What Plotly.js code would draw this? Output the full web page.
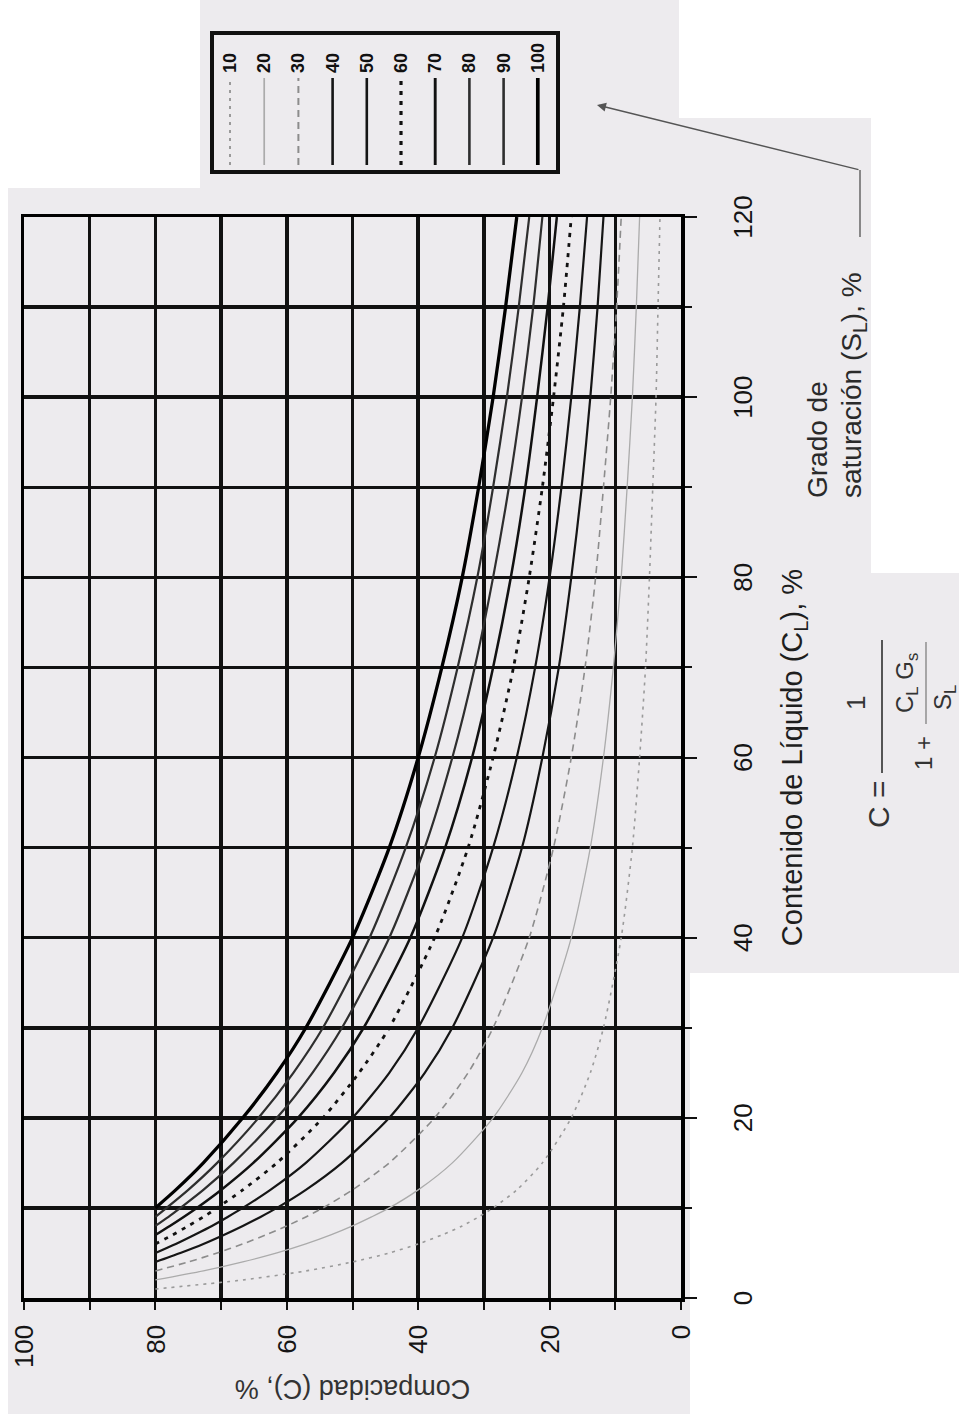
<!DOCTYPE html>
<html><head><meta charset="utf-8">
<script src="https://cdn.plot.ly/plotly-3.0.1.min.js"></script>
<style>
html,body{margin:0;padding:0;width:959px;height:1414px;overflow:hidden;background:#fff;}
#wrap{position:absolute;left:0;top:0;width:1414px;height:959px;transform-origin:0 0;transform:rotate(-90deg) translate(-1414px,0);}
</style></head><body>
<div id="wrap"><div id="chart" style="width:1414px;height:959px"></div></div>
<script>
// Contenido de líquido C_L (%)
const CL = [1,2,3,4,5,6,7,8,9,10,12,15,20,25,30,40,50,60,70,80,90,100,110,120];
// Compacidad C (%) for each grado de saturación S_L (%)
const S10  = [80,66.7,57.1,50,44.4,40,36.4,33.3,30.8,28.6,25,21.1,16.7,13.8,11.8,9.1,7.4,6.3,5.4,4.8,4.3,3.8,3.5,3.2];
const S20  = [null,80,72.7,66.7,61.5,57.1,53.3,50,47.1,44.4,40,34.8,28.6,24.2,21.1,16.7,13.8,11.8,10.3,9.1,8.2,7.4,6.8,6.3];
const S30  = [null,null,80,75,70.6,66.7,63.2,60,57.1,54.5,50,44.4,37.5,32.4,28.6,23.1,19.4,16.7,14.6,13,11.8,10.7,9.8,9.1];
const S40  = [null,null,null,80,76.2,72.7,69.6,66.7,64,61.5,57.1,51.6,44.4,39,34.8,28.6,24.2,21.1,18.6,16.7,15.1,13.8,12.7,11.8];
const S50  = [null,null,null,null,80,76.9,74.1,71.4,69,66.7,62.5,57.1,50,44.4,40,33.3,28.6,25,22.2,20,18.2,16.7,15.4,14.3];
const S60  = [null,null,null,null,null,80,77.4,75,72.7,70.6,66.7,61.5,54.5,49,44.4,37.5,32.4,28.6,25.5,23.1,21.1,19.4,17.9,16.7];
const S70  = [null,null,null,null,null,null,80,77.8,75.7,73.7,70,65.1,58.3,52.8,48.3,41.2,35.9,31.8,28.6,25.9,23.7,21.9,20.3,18.9];
const S80  = [null,null,null,null,null,null,null,80,78,76.2,72.7,68.1,61.5,56.1,51.6,44.4,39,34.8,31.4,28.6,26.2,24.2,22.5,21.1];
const S90  = [null,null,null,null,null,null,null,null,80,78.3,75,70.6,64.3,59,54.5,47.4,41.9,37.5,34,31,28.6,26.5,24.7,23.1];
const S100 = [null,null,null,null,null,null,null,null,null,80,76.9,72.7,66.7,61.5,57.1,50,44.4,40,36.4,33.3,30.8,28.6,26.7,25];
const SAT = ['10','20','30','40','50','60','70','80','90','100'];
const SERIES = [S10,S20,S30,S40,S50,S60,S70,S80,S90,S100];

const STYLES = [
  {color:'#9a9a9a', width:1.6, dash:'3px,5px'},
  {color:'#ababab', width:1.3, dash:'solid'},
  {color:'#8c8c8c', width:1.6, dash:'7px,5px'},
  {color:'#151515', width:2.2, dash:'solid'},
  {color:'#151515', width:2.2, dash:'solid'},
  {color:'#111111', width:2.8, dash:'4px,6px'},
  {color:'#111111', width:2.5, dash:'solid'},
  {color:'#2e2e2e', width:2.2, dash:'solid'},
  {color:'#2e2e2e', width:2.2, dash:'solid'},
  {color:'#000000', width:3.3, dash:'solid'}
];
const FONT = 'Liberation Sans, Arial, Helvetica, sans-serif';

// chart geometry (unrotated px)
const W=1414, H=959, L=116, R=1197, T=24, B=681;
const px = u => (u-L)/(R-L);
const py = v => (B-v)/(B-T);

const traces = SERIES.map((s,i)=>({
  type:'scatter', mode:'lines', x:CL, y:s, name:SAT[i], showlegend:false,
  line:{color:STYLES[i].color, width:STYLES[i].width, dash:STYLES[i].dash, shape:'spline', smoothing:0.7},
  hoverinfo:'skip'
}));

const grey = '#edebee';
const shapes = [
  {type:'rect', xref:'paper', yref:'paper', x0:px(0), x1:px(1226), y0:py(690), y1:py(8), fillcolor:grey, line:{width:0}, layer:'below'},
  {type:'rect', xref:'paper', yref:'paper', x0:px(1226), x1:px(1414), y0:py(679), y1:py(200), fillcolor:grey, line:{width:0}, layer:'below'},
  {type:'rect', xref:'paper', yref:'paper', x0:px(841), x1:px(1296), y0:py(871), y1:py(679), fillcolor:grey, line:{width:0}, layer:'below'},
  {type:'rect', xref:'paper', yref:'paper', x0:px(441), x1:px(841), y0:py(959), y1:py(690), fillcolor:grey, line:{width:0}, layer:'below'},
  // legend frame
  {type:'rect', xref:'paper', yref:'paper', x0:px(1242), x1:px(1381), y0:py(558), y1:py(212), line:{color:'#111', width:4}, fillcolor:'rgba(0,0,0,0)'},
  // leader line to legend
  {type:'line', xref:'paper', yref:'paper', x0:px(1177), x1:px(1244), y0:py(860), y1:py(860), line:{color:'#666', width:1.5}},
  // formula fraction bars
  {type:'line', xref:'paper', yref:'paper', x0:px(641), x1:px(774), y0:py(882), y1:py(882), line:{color:'#555', width:2}},
  {type:'line', xref:'paper', yref:'paper', x0:px(690), x1:px(772), y0:py(926), y1:py(926), line:{color:'#777', width:1.2}}
];
SAT.forEach((s,i)=>{
  const v = 230 + 34.2*i;
  shapes.push({type:'line', xref:'paper', yref:'paper', x0:px(1249), x1:px(1336), y0:py(v), y1:py(v),
    line:{color:STYLES[i].color, width:STYLES[i].width+0.4, dash:STYLES[i].dash}});
});

const annotations = [];
SAT.forEach((s,i)=>{
  const v = 230 + 34.2*i;
  annotations.push({xref:'paper', yref:'paper', x:px(1339), y:py(v), text:s, showarrow:false,
    xanchor:'left', yanchor:'middle', font:{family:FONT, size:18, color:'#111', weight:'bold'}});
});
annotations.push(
  {xref:'paper', yref:'paper', x:px(914), y:py(817), text:'Grado de', showarrow:false, xanchor:'left', yanchor:'middle', font:{family:FONT, size:28, color:'#2a2a2a'}},
  {xref:'paper', yref:'paper', x:px(914), y:py(853), text:'saturación (S<sub>L</sub>), %', showarrow:false, xanchor:'left', yanchor:'middle', font:{family:FONT, size:28, color:'#2a2a2a'}},
  {xref:'paper', yref:'paper', x:px(1309), y:py(597), text:'', showarrow:true, arrowhead:2, arrowsize:1.2, arrowwidth:1.5, arrowcolor:'#555', ax:-65, ay:263, standoff:0},
  {xref:'paper', yref:'paper', x:px(636), y:py(879), text:'C =', showarrow:false, xanchor:'right', yanchor:'middle', font:{family:FONT, size:30, color:'#333'}},
  {xref:'paper', yref:'paper', x:px(711), y:py(856), text:'1', showarrow:false, xanchor:'center', yanchor:'middle', font:{family:FONT, size:26, color:'#333'}},
  {xref:'paper', yref:'paper', x:px(661), y:py(923), text:'1 +', showarrow:false, xanchor:'center', yanchor:'middle', font:{family:FONT, size:24, color:'#333'}},
  {xref:'paper', yref:'paper', x:px(731), y:py(906), text:'C<sub>L</sub> G<sub>s</sub>', showarrow:false, xanchor:'center', yanchor:'middle', font:{family:FONT, size:24, color:'#333'}},
  {xref:'paper', yref:'paper', x:px(716), y:py(944), text:'S<sub>L</sub>', showarrow:false, xanchor:'center', yanchor:'middle', font:{family:FONT, size:24, color:'#333'}}
);

const axisCommon = {
  showgrid:true, gridcolor:'#111', gridwidth:3.5, zeroline:false,
  showline:true, linecolor:'#000', linewidth:3.5, mirror:true,
  ticks:'outside', tickwidth:2, tickcolor:'#111',
  automargin:false, fixedrange:true
};
const layout = {
  width:W, height:H, margin:{l:L, r:W-R, t:T, b:H-B},
  paper_bgcolor:'#ffffff', plot_bgcolor:'rgba(0,0,0,0)',
  font:{family:FONT, color:'#222'},
  xaxis:Object.assign({}, axisCommon, {
    range:[0,120], tick0:0, dtick:20, ticklen:12, ticklabelstandoff:24,
    minor:{dtick:10, showgrid:true, gridcolor:'#111', gridwidth:3.5, ticks:'outside', ticklen:7, tickwidth:2, tickcolor:'#111'},
    tickfont:{family:FONT, size:26, color:'#151515'},
    title:{text:'Contenido de Líquido (C<sub>L</sub>), %', font:{family:FONT, size:29, color:'#1e1e1e'}, standoff:26}
  }),
  yaxis:Object.assign({}, axisCommon, {
    range:[0,100], tick0:0, dtick:20, ticklen:8, ticklabelstandoff:10,
    minor:{dtick:10, showgrid:true, gridcolor:'#111', gridwidth:3.5, ticks:'outside', ticklen:8, tickwidth:2, tickcolor:'#111'},
    tickfont:{family:FONT, size:26, color:'#151515'},
    title:{text:'Compacidad (C), %', font:{family:FONT, size:27, color:'#333'}, standoff:4}
  }),
  shapes:shapes, annotations:annotations, showlegend:false
};
Plotly.newPlot('chart', traces, layout, {staticPlot:true, displayModeBar:false});
</script></body></html>
